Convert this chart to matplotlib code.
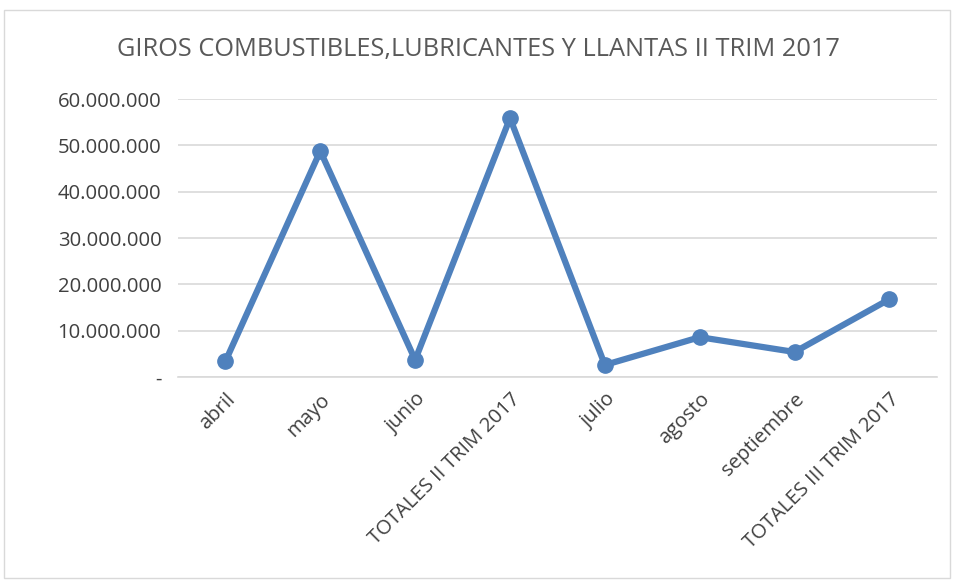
import matplotlib.pyplot as plt
from matplotlib.patches import Rectangle
from matplotlib.ticker import FuncFormatter

categories = ['abril', 'mayo', 'junio', 'TOTALES II TRIM 2017',
              'julio', 'agosto', 'septiembre', 'TOTALES III TRIM 2017']
values = [3400000, 48800000, 3700000, 55900000,
          2600000, 8600000, 5400000, 16800000]
yticks = [0, 10000000, 20000000, 30000000, 40000000, 50000000, 60000000]

plt.rcParams['font.family'] = ['Open Sans', 'DejaVu Sans']

fig = plt.figure(figsize=(9.57, 5.8), dpi=100)
fig.patches.append(Rectangle((4 / 957, 2 / 580), 946 / 957, 568 / 580,
                             transform=fig.transFigure, fill=False,
                             edgecolor='#d9d9d9', linewidth=1))
ax = fig.add_axes([0.186, 0.35, 0.793, 0.479])

x = list(range(len(categories)))
ax.plot(x, values, color='#4f81bd', linewidth=4.5, marker='o', markersize=11,
        solid_capstyle='round', solid_joinstyle='round')

ax.set_xlim(-0.5, len(categories) - 0.5)
ax.set_ylim(0, 60000000)
ax.set_yticks(yticks)


def fmt(v, pos):
    if v == 0:
        return '-'
    return f'{int(v):,}'.replace(',', '.')


ax.yaxis.set_major_formatter(FuncFormatter(fmt))
ax.set_xticks(x)
ax.set_xticklabels(categories, rotation=45, ha='right', rotation_mode='anchor')
ax.tick_params(axis='both', length=0, labelsize=14.6, colors='#404040')
ax.tick_params(axis='y', pad=12)
ax.tick_params(axis='x', pad=9)
ax.grid(axis='y', color='#d9d9d9', linewidth=1.2)
ax.set_axisbelow(True)
for s in ['top', 'right', 'left']:
    ax.spines[s].set_visible(False)
ax.spines['bottom'].set_color('#d9d9d9')
ax.spines['bottom'].set_linewidth(1.2)

fig.text(0.5, 0.915, 'GIROS COMBUSTIBLES,LUBRICANTES Y LLANTAS II TRIM 2017',
         ha='center', va='center', fontsize=18.3, color='#595959')

fig.savefig('out.png', dpi=100)
